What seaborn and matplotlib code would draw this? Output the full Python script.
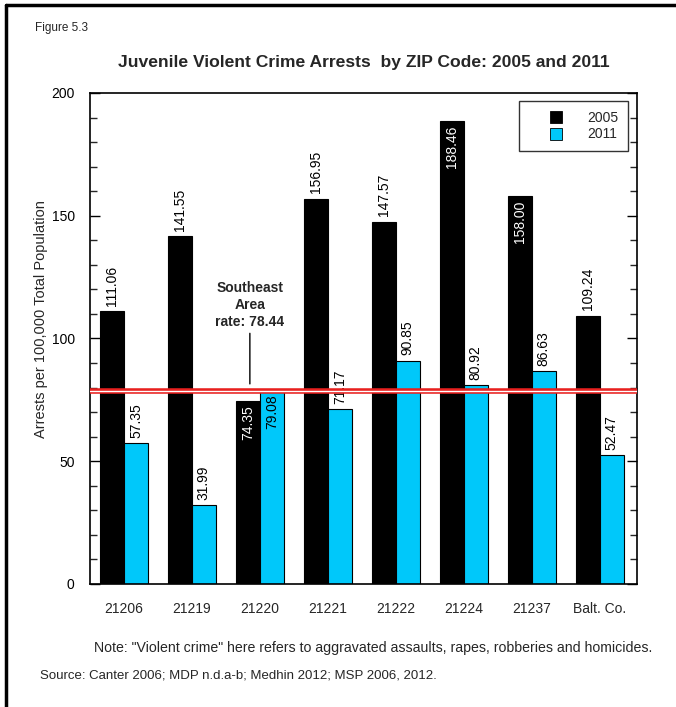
import matplotlib
matplotlib.use("Agg")
import matplotlib.pyplot as plt
import seaborn as sns
import pandas as pd
from matplotlib.ticker import MultipleLocator
from matplotlib.lines import Line2D

categories = ["21206", "21219", "21220", "21221", "21222", "21224", "21237", "Balt. Co."]
values_2005 = [111.06, 141.55, 74.35, 156.95, 147.57, 188.46, 158.00, 109.24]
values_2011 = [57.35, 31.99, 79.08, 71.17, 90.85, 80.92, 86.63, 52.47]
years = ["2005", "2011"]
southeast_rate = 78.44
# labels drawn inside the bar top instead of above
inside_labels = {("21220", "2005"), ("21224", "2005"), ("21237", "2005"), ("21220", "2011")}

colors = {"2005": "#000000", "2011": "#00C8FA"}

df = pd.DataFrame({
    "zip": categories * 2,
    "year": ["2005"] * len(categories) + ["2011"] * len(categories),
    "value": values_2005 + values_2011,
})

sns.set_theme(style="white")
plt.rcParams["font.family"] = ["Liberation Sans", "DejaVu Sans"]

fig = plt.figure(figsize=(6.76, 7.07), dpi=100)
ax = fig.add_axes([0.1331, 0.174, 0.8092, 0.6945])

sns.barplot(data=df, x="zip", y="value", hue="year", order=categories,
            hue_order=years, palette=colors, width=0.706, ax=ax,
            edgecolor="black", linewidth=0.8, saturation=1, legend=False)

ax.set_xlim(-0.5, 7.55)
ax.set_ylim(0, 200)
ax.yaxis.set_major_locator(MultipleLocator(50))
ax.yaxis.set_minor_locator(MultipleLocator(10))
ax.tick_params(axis="y", which="major", direction="in", length=7, width=1,
               left=True, right=True, labelsize=10, colors="black", pad=11)
ax.tick_params(axis="y", which="minor", direction="in", length=5, width=1,
               left=True, right=True)
ax.tick_params(axis="x", which="both", length=0, labelsize=10, pad=13)
for s in ax.spines.values():
    s.set_color("black")
    s.set_linewidth(1.2)
ax.set_xlabel("")
ax.set_ylabel("Arrests per 100,000 Total Population", fontsize=10.5)
ax.yaxis.set_label_coords(-0.077, 0.54)

# value labels
for container, year in zip(ax.containers, years):
    for bar, cat in zip(container, categories):
        h = bar.get_height()
        x = bar.get_x() + bar.get_width() / 2
        txt = f"{h:.2f}"
        if (cat, year) in inside_labels:
            col = "white" if year == "2005" else "black"
            ax.annotate(txt, (x, h), xytext=(0, -3), textcoords="offset points",
                        rotation=90, ha="center", va="top", fontsize=10, color=col)
        else:
            ax.annotate(txt, (x, h), xytext=(0, 4), textcoords="offset points",
                        rotation=90, ha="center", va="bottom", fontsize=10, color="black")

# Southeast area rate line (double red line)
ax.axhline(southeast_rate, color="#E8201E", lw=4.0, zorder=5)
ax.axhline(southeast_rate, color="white", lw=1.0, zorder=6)
ax.annotate("Southeast\nArea\nrate: 78.44", xy=(1.853, 81.5),
            xytext=(1.853, 104), ha="center", va="bottom", fontsize=10,
            fontweight="bold", linespacing=1.25,
            arrowprops=dict(arrowstyle="-", color="black", lw=1, shrinkA=1, shrinkB=0))

# legend
handles = [Line2D([], [], marker="s", linestyle="none", markersize=8,
                  markerfacecolor=colors[y], markeredgecolor="black", markeredgewidth=0.6)
           for y in years]
leg = ax.legend(handles, years, loc="upper right", bbox_to_anchor=(0.9835, 0.9837),
                fontsize=10, frameon=True, fancybox=False, edgecolor="black",
                handletextpad=0.34, borderpad=0.7, labelspacing=0.2,
                borderaxespad=0, handlelength=3.86, markerfirst=True)
leg.get_frame().set_linewidth(1.0)
leg.get_frame().set_boxstyle("square", pad=0)

# figure texts
fig.text(35 / 676, 1 - 28 / 707, "Figure 5.3", fontsize=8.5, va="center", ha="left")
fig.text(364 / 676, 1 - 62 / 707, "Juvenile Violent Crime Arrests  by ZIP Code: 2005 and 2011",
         fontsize=12.6, fontweight="bold", ha="center", va="center")
fig.text(373 / 676, 1 - 648 / 707,
         'Note: "Violent crime" here refers to aggravated assaults, rapes, robberies and homicides.',
         fontsize=10.2, ha="center", va="center")
fig.text(40 / 676, 1 - 675 / 707, "Source: Canter 2006; MDP n.d.a-b; Medhin 2012; MSP 2006, 2012.",
         fontsize=9.5, ha="left", va="center")

# figure frame (top and left edges visible)
fig.add_artist(Line2D([6 / 676, 1], [1 - 5 / 707, 1 - 5 / 707], transform=fig.transFigure,
                      color="black", lw=2.5))
fig.add_artist(Line2D([6 / 676, 6 / 676], [0, 1 - 5 / 707], transform=fig.transFigure,
                      color="black", lw=2.5))

fig.savefig("out.png", dpi=100)
